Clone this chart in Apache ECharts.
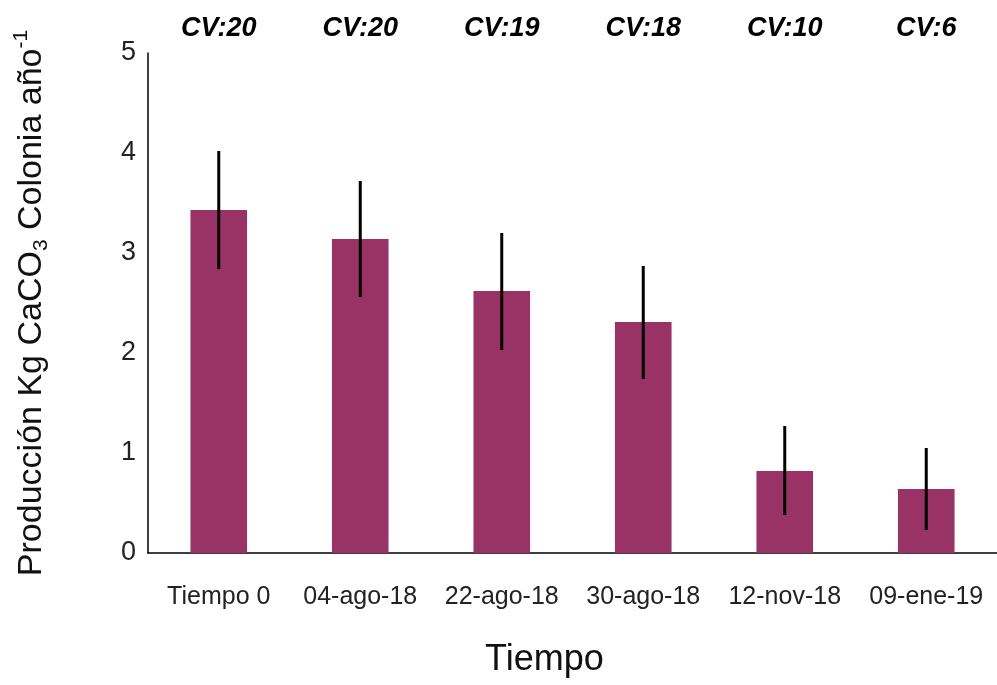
<!DOCTYPE html>
<html><head><meta charset="utf-8">
<script src="https://cdn.jsdelivr.net/npm/echarts@6/dist/echarts.min.js"></script>
<style>html,body{margin:0;padding:0;background:#fff}#c{width:997px;height:685px}</style>
</head><body><div id="c"></div>
<script>
var categories = ['Tiempo 0','04-ago-18','22-ago-18','30-ago-18','12-nov-18','09-ene-19'];
var means = [3.43, 3.14, 2.62, 2.31, 0.82, 0.64];
var errUpper = [4.02, 3.72, 3.20, 2.87, 1.27, 1.05];
var errLower = [2.84, 2.56, 2.03, 1.74, 0.38, 0.23];
var cvLabels = ['CV:20','CV:20','CV:19','CV:18','CV:10','CV:6'];
var yTicks = [0,1,2,3,4,5];

var font = 'Liberation Sans';
var chart = echarts.init(document.getElementById('c'));
chart.setOption({
  animation:false,
  textStyle:{fontFamily:font},
  grid:{left:148,right:0,top:53,bottom:132,containLabel:false},
  xAxis:[{
    type:'category',data:categories,
    axisLine:{lineStyle:{color:'#000',width:1.5}},
    axisTick:{show:false},
    axisLabel:{color:'#222',fontSize:25,margin:32,interval:0}
  },{
    type:'category',data:cvLabels,position:'top',
    axisLine:{show:false},axisTick:{show:false},
    axisLabel:{color:'#000',fontSize:27,fontWeight:'bold',fontStyle:'italic',margin:11,interval:0}
  }],
  yAxis:{
    type:'value',min:0,max:5,interval:1,
    axisLine:{show:true,lineStyle:{color:'#000',width:1.5}},
    axisTick:{show:false},
    splitLine:{show:false},
    axisLabel:{color:'#222',fontSize:27,margin:12,
      formatter:function(v){return yTicks.indexOf(v)>=0?String(v):'';}},
    name:'{a|Producción Kg CaCO}{s|3}{a| Colonia año}{p|-1}',
    nameLocation:'middle',nameGap:96,nameRotate:90,
    nameTextStyle:{
      rich:{
        a:{fontSize:34,color:'#111',fontFamily:font},
        s:{fontSize:21,color:'#111',fontFamily:font,verticalAlign:'bottom',padding:[18,0,0,0]},
        p:{fontSize:21,color:'#111',fontFamily:font,verticalAlign:'top',padding:[0,0,20,0]}
      }
    }
  },
  graphic:[{
    type:'text',left:485,top:642,
    style:{text:'Tiempo',fontSize:36,fill:'#111',fontFamily:font}
  }],
  series:[{
    type:'bar',data:means,barWidth:'40%',
    itemStyle:{color:'#993366'}
  },{
    type:'custom',data:categories.map(function(c,i){return [i,errLower[i],errUpper[i]];}),
    renderItem:function(params,api){
      var lo=api.coord([api.value(0),api.value(1)]);
      var hi=api.coord([api.value(0),api.value(2)]);
      return {type:'line',shape:{x1:lo[0],y1:lo[1],x2:hi[0],y2:hi[1]},
        style:{stroke:'#000',lineWidth:3}};
    },
    encode:{x:0,y:[1,2]},z:10
  }]
});
</script></body></html>
